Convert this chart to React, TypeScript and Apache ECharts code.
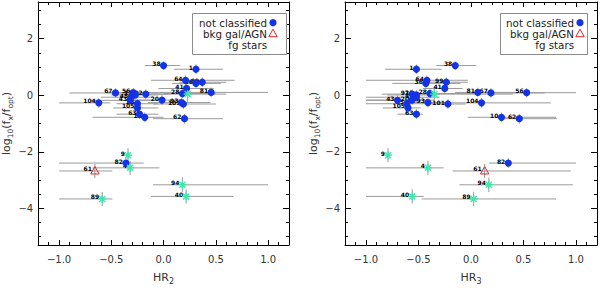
import React, { useEffect, useRef } from 'react';
import * as echarts from 'echarts';

// ---------- data ----------
const ids = ['1','38','64','36','99','41','28','81','67','56','104','101','93','10','62','63','105','43','20','92','45','12','25','82','61','3','9','4','94','40','89'];
// n = not classified, b = bkg gal/AGN, f = fg stars
const classes = ['n','n','n','n','n','n','n','n','n','n','n','n','n','n','n','n','n','n','n','n','n','n','n','n','b','f','f','f','f','f','f'];
const logRatio = [0.92,1.05,0.53,0.42,0.46,0.24,0.06,0.10,0.08,0.09,-0.27,-0.31,-0.26,-0.78,-0.83,-0.67,-0.45,-0.18,-0.17,0.04,-0.07,0.01,-0.30,-2.40,-2.68,0.04,-2.12,-2.57,-3.17,-3.58,-3.67];
const logErr = [0.17,0.15,0.17,0.17,0.17,0.17,0.17,0.17,0.17,0.17,0.17,0.17,0.17,0.17,0.17,0.17,0.17,0.17,0.17,0.17,0.17,0.17,0.17,0.17,0.25,0.27,0.25,0.25,0.26,0.25,0.25];
const hr2 = [0.31,0.00,0.21,0.31,0.37,0.22,0.18,0.455,-0.46,-0.29,-0.62,0.19,0.17,-0.18,0.20,-0.23,-0.25,-0.32,-0.015,-0.17,-0.31,-0.27,-0.25,-0.36,-0.657,0.23,-0.34,-0.32,0.18,0.216,-0.587];
const hr2Lo = [0.10,-0.18,-0.12,0.08,0.15,-0.05,0.00,-0.03,-0.90,-0.55,-1.00,-0.10,-0.15,-0.68,-0.10,-0.45,-0.48,-0.70,-0.36,-0.40,-0.60,-0.50,-0.45,-1.00,-1.00,-0.05,-0.36,-0.68,-0.10,-0.12,-1.00];
const hr2Hi = [0.57,0.16,0.68,0.55,0.60,0.48,0.50,1.00,-0.05,0.00,-0.51,0.50,0.45,0.00,0.57,-0.05,-0.05,-0.10,0.16,0.05,-0.10,-0.05,-0.05,-0.19,-0.49,0.60,-0.32,-0.04,1.00,0.67,-0.49];
const hr3 = [-0.52,-0.15,-0.42,-0.43,-0.235,-0.25,-0.39,0.065,0.19,0.53,0.10,-0.22,-0.41,0.29,0.46,-0.52,-0.60,-0.70,-0.56,-0.56,-0.52,-0.52,-0.61,0.355,0.13,-0.35,-0.79,-0.41,0.17,-0.56,0.025];
const hr3Lo = [-0.82,-0.33,-1.00,-0.75,-0.42,-0.46,-0.62,-0.15,-0.05,0.19,-0.46,-0.37,-0.62,-0.03,0.30,-0.70,-0.84,-1.00,-1.00,-0.85,-1.00,-0.80,-1.00,0.17,-0.175,-0.55,-0.81,-1.00,-0.11,-1.00,-0.47];
const hr3Hi = [-0.28,0.05,-0.03,-0.10,-0.03,-0.08,0.10,0.45,0.70,1.00,0.76,-0.05,-0.20,0.81,0.82,-0.46,-0.48,-0.40,-0.35,-0.30,-0.30,-0.35,-0.35,1.00,0.95,0.40,-0.77,-0.26,0.97,-0.45,0.81];

const xTickLabels = [-1.0, -0.5, 0.0, 0.5, 1.0];
const xMinorTicks = [-1.2,-1.1,-1.0,-0.9,-0.8,-0.7,-0.6,-0.5,-0.4,-0.3,-0.2,-0.1,0,0.1,0.2,0.3,0.4,0.5,0.6,0.7,0.8,0.9,1.0,1.1,1.2];
const yTickLabels = [-4, -2, 0, 2];
const yMinorTicks = [-5,-4.5,-4,-3.5,-3,-2.5,-2,-1.5,-1,-0.5,0,0.5,1,1.5,2,2.5,3];
const legendLabels = ['not classified', 'bkg gal/AGN', 'fg stars'];

// ---------- styles ----------
const FONT = 'DejaVu Sans';
const BLUE = '#1432e6';
const RED = '#e02828';
const GREEN = '#3ee6aa';
const BAR = '#9a9a9a';

const minus = (s: string) => s.replace('-', '\u2212');

function xAxesFor(g: number, title: string) {
  const base: any = { type: 'value', gridIndex: g, min: -1.2, max: 1.2, splitLine: { show: false } };
  const line = { show: true, onZero: false, lineStyle: { color: '#000', width: 1 } };
  return [
    {
      ...base, position: 'bottom', axisLine: line,
      axisTick: { show: true, inside: true, length: 5, customValues: xTickLabels, lineStyle: { color: '#000' } },
      axisLabel: { show: true, customValues: xTickLabels, margin: 9, fontSize: 10, fontFamily: FONT, color: '#333',
        formatter: (v: number) => minus(v.toFixed(1)) },
      name: `{t|HR}{s|${title}}`, nameLocation: 'middle', nameGap: 24,
      nameTextStyle: { rich: {
        t: { fontSize: 11, fontFamily: FONT, color: '#333', lineHeight: 16, verticalAlign: 'middle' },
        s: { fontSize: 8, fontFamily: FONT, color: '#333', lineHeight: 8, verticalAlign: 'bottom' } } },
    },
    { ...base, position: 'bottom', axisLine: { show: false, onZero: false },
      axisTick: { show: true, inside: true, length: 3, customValues: xMinorTicks, lineStyle: { color: '#000' } },
      axisLabel: { show: false } },
    { ...base, position: 'top', axisLine: line,
      axisTick: { show: true, inside: true, length: 5, customValues: xTickLabels, lineStyle: { color: '#000' } },
      axisLabel: { show: false } },
    { ...base, position: 'top', axisLine: { show: false, onZero: false },
      axisTick: { show: true, inside: true, length: 3, customValues: xMinorTicks, lineStyle: { color: '#000' } },
      axisLabel: { show: false } },
  ];
}

function yAxesFor(g: number) {
  const base: any = { type: 'value', gridIndex: g, min: -5.3, max: 3.3, splitLine: { show: false } };
  const line = { show: true, onZero: false, lineStyle: { color: '#000', width: 1 } };
  return [
    {
      ...base, position: 'left', axisLine: line,
      axisTick: { show: true, inside: true, length: 6, customValues: yTickLabels, lineStyle: { color: '#000' } },
      axisLabel: { show: true, customValues: yTickLabels, margin: 5, fontSize: 10, fontFamily: FONT, color: '#333',
        formatter: (v: number) => minus(String(v)) },
      name: '{t|log}{s|10}{t|(f}{s|x}{t|/f}{s|opt}{t|)}', nameLocation: 'middle', nameGap: 19,
      nameTextStyle: { rich: {
        t: { fontSize: 11, fontFamily: FONT, color: '#333', lineHeight: 16, verticalAlign: 'middle' },
        s: { fontSize: 7.5, fontFamily: FONT, color: '#333', lineHeight: 8, verticalAlign: 'bottom' } } },
    },
    { ...base, position: 'left', axisLine: { show: false, onZero: false },
      axisTick: { show: true, inside: true, length: 3, customValues: yMinorTicks, lineStyle: { color: '#000' } },
      axisLabel: { show: false } },
    { ...base, position: 'right', axisLine: line,
      axisTick: { show: true, inside: true, length: 6, customValues: yTickLabels, lineStyle: { color: '#000' } },
      axisLabel: { show: false } },
    { ...base, position: 'right', axisLine: { show: false, onZero: false },
      axisTick: { show: true, inside: true, length: 3, customValues: yMinorTicks, lineStyle: { color: '#000' } },
      axisLabel: { show: false } },
  ];
}

function starShape(cx: number, cy: number, r: number, lw: number) {
  const d = r * 0.75;
  return [
    { type: 'line', shape: { x1: cx - r, y1: cy, x2: cx + r, y2: cy }, style: { stroke: GREEN, lineWidth: lw } },
    { type: 'line', shape: { x1: cx, y1: cy - r, x2: cx, y2: cy + r }, style: { stroke: GREEN, lineWidth: lw } },
    { type: 'line', shape: { x1: cx - d, y1: cy - d, x2: cx + d, y2: cy + d }, style: { stroke: GREEN, lineWidth: lw } },
    { type: 'line', shape: { x1: cx - d, y1: cy + d, x2: cx + d, y2: cy - d }, style: { stroke: GREEN, lineWidth: lw } },
  ];
}

function markerChildren(cls: string, cx: number, cy: number) {
  if (cls === 'n') {
    return [{ type: 'circle', shape: { cx, cy, r: 3.6 }, style: { fill: BLUE } }];
  }
  if (cls === 'b') {
    return [{ type: 'polygon', shape: { points: [[cx, cy - 4.5], [cx - 4.2, cy + 3], [cx + 4.2, cy + 3]] },
      style: { fill: 'none', stroke: RED, lineWidth: 1 } }];
  }
  return starShape(cx, cy, 4, 1.4);
}

function panelSeries(g: number, xs: number[], lo: number[], hi: number[]) {
  const xIdx = g * 4;
  const yIdx = g * 4;
  const rows = ids.map((_, i) => [xs[i], logRatio[i], lo[i], hi[i], logErr[i]]);
  return [
    {
      type: 'custom', xAxisIndex: xIdx, yAxisIndex: yIdx, data: rows, encode: { x: 0, y: 1 }, silent: true, z: 2,
      renderItem: (_p: any, api: any) => {
        const x = api.value(0), y = api.value(1);
        const a = api.coord([api.value(2), y]);
        const b = api.coord([api.value(3), y]);
        const t = api.coord([x, y + api.value(4)]);
        const u = api.coord([x, y - api.value(4)]);
        return { type: 'group', children: [
          { type: 'line', shape: { x1: a[0], y1: a[1], x2: b[0], y2: b[1] }, style: { stroke: BAR, lineWidth: 1 } },
          { type: 'line', shape: { x1: t[0], y1: t[1], x2: u[0], y2: u[1] }, style: { stroke: BAR, lineWidth: 1 } },
        ] };
      },
    },
    {
      type: 'custom', xAxisIndex: xIdx, yAxisIndex: yIdx, data: rows, encode: { x: 0, y: 1 }, silent: true, z: 3,
      renderItem: (p: any, api: any) => {
        const c = api.coord([api.value(0), api.value(1)]);
        return { type: 'text', x: c[0] - 3, y: c[1] - 2,
          style: { text: ids[p.dataIndex], fill: '#000', fontSize: 6, fontWeight: 'bold', fontFamily: FONT,
            align: 'right', verticalAlign: 'middle' } };
      },
    },
    {
      type: 'custom', xAxisIndex: xIdx, yAxisIndex: yIdx, data: rows, encode: { x: 0, y: 1 }, silent: true, z: 4,
      renderItem: (p: any, api: any) => {
        const c = api.coord([api.value(0), api.value(1)]);
        return { type: 'group', children: markerChildren(classes[p.dataIndex], c[0], c[1]) };
      },
    },
  ];
}

function legendGraphic(boxX: number, boxW: number, textRight: number, markX: number) {
  const ys = [22.7, 33.7, 44.8];
  const els: any[] = [
    { type: 'rect', shape: { x: boxX + 0.5, y: 13.5, width: boxW, height: 41 }, style: { fill: '#fff', stroke: '#8c8c8c', lineWidth: 1 }, z: 10 },
  ];
  legendLabels.forEach((t, i) => {
    els.push({ type: 'text', x: textRight, y: ys[i], z: 11,
      style: { text: t, fill: '#222', fontSize: 10.3, fontFamily: FONT, align: 'right', verticalAlign: 'middle' } });
  });
  els.push({ type: 'circle', shape: { cx: markX, cy: ys[0], r: 3.6 }, style: { fill: BLUE }, z: 11 });
  els.push({ type: 'polygon', shape: { points: [[markX, ys[1] - 4.5], [markX - 4.2, ys[1] + 3], [markX + 4.2, ys[1] + 3]] },
    style: { fill: 'none', stroke: RED, lineWidth: 1 }, z: 11 });
  els.push({ type: 'group', z: 11, children: starShape(markX, ys[2], 3.8, 1.3) });
  return els;
}

function buildOption() {
  return {
    animation: false,
    backgroundColor: '#fff',
    grid: [
      { left: 37, top: 2, width: 252, height: 256 },
      { left: 345, top: 2, width: 252, height: 256 },
    ],
    xAxis: [...xAxesFor(0, '2'), ...xAxesFor(1, '3')],
    yAxis: [...yAxesFor(0), ...yAxesFor(1)],
    series: [
      ...panelSeries(0, hr2, hr2Lo, hr2Hi),
      ...panelSeries(1, hr3, hr3Lo, hr3Hi),
    ],
    graphic: [
      ...legendGraphic(192, 94, 267, 273),
      ...legendGraphic(500, 87, 574, 580),
    ],
  };
}

export default function App() {
  const ref = useRef<HTMLDivElement>(null);
  useEffect(() => {
    const chart = echarts.init(ref.current!, null, { renderer: 'svg' });
    chart.setOption(buildOption() as any);
    return () => chart.dispose();
  }, []);
  return <div ref={ref} style={{ position: 'fixed', left: 0, top: 0, width: 600, height: 290 }} />;
}
